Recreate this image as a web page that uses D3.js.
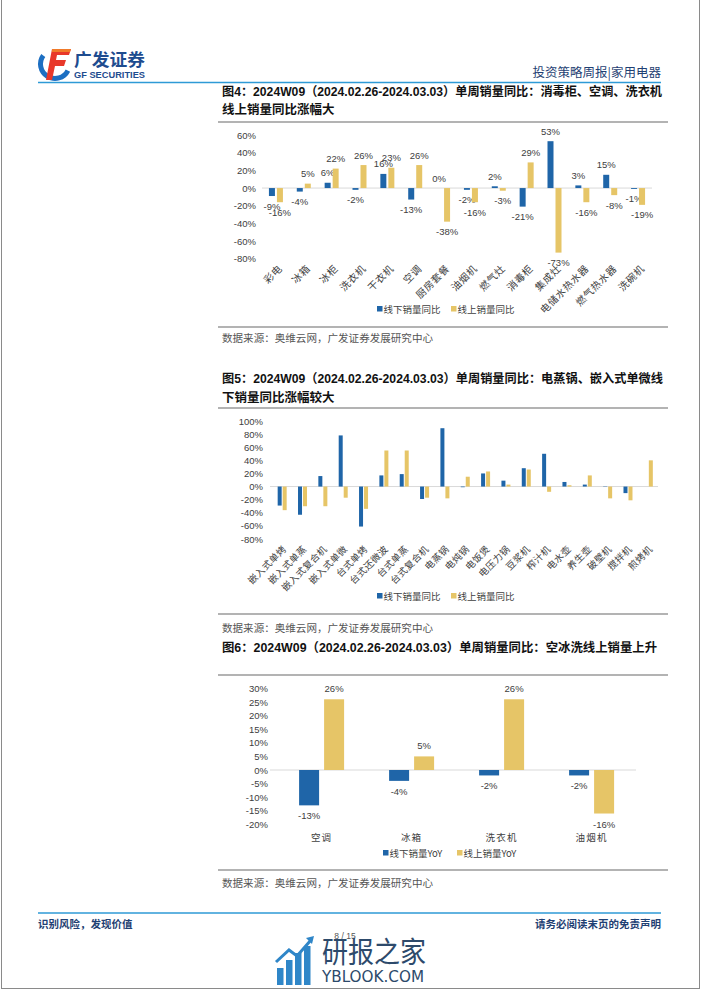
<!DOCTYPE html>
<html><head><meta charset="utf-8">
<script src="https://cdn.jsdelivr.net/npm/d3@7"></script>
<style>body{margin:0;background:#fff} svg{display:block}</style>
</head><body>
<svg id="page" width="702" height="991"></svg>
<script>
// ---------- data ----------
const cat1 = ["彩电","冰箱","冰柜","洗衣机","干衣机","空调","厨房套餐","油烟机","燃气灶","消毒柜","集成灶","电储水热水器","燃气热水器","洗碗机"];
const off1 = [-9,-4,6,-2,16,-13,0,-2,2,-21,53,3,15,-1];
const on1  = [-16,5,22,26,23,26,-38,-16,-3,29,-73,-16,-8,-19];
const ticks1 = [60,40,20,0,-20,-40,-60,-80];

const cat2 = ["嵌入式单烤","嵌入式单蒸","嵌入式复合机","嵌入式单微","台式单烤","台式还微波","台式单蒸","台式复合机","电蒸锅","电炖锅","电饭煲","电压力锅","豆浆机","榨汁机","电水壶","养生壶","破壁机","搅拌机","煎烤机"];
const off2 = [-29,-43,16,78,-61,17,19,-19,89,-1,20,9,28,50,7,3,0.5,-10,0];
const on2  = [-36,-30,-30,-17,-34,55,55,-17,-18,15,23,3,26,-8,2,17,-18,-21,40];
const ticks2 = [100,80,60,40,20,0,-20,-40,-60,-80];

const cat3 = ["空调","冰箱","洗衣机","油烟机"];
const off3 = [-13,-4,-2,-2];
const on3  = [26,5,26,-16];
const ticks3 = [30,25,20,15,10,5,0,-5,-10,-15,-20];

const legend12 = ["线下销量同比","线上销量同比"];
const legend3 = ["线下销量YoY","线上销量YoY"];

// ---------- style ----------
const BLUE = "#1f65a8", YEL = "#e6c567", NAVY = "#1f3f73", TXT = "#404040";
const SANS = "'Liberation Sans', Arial, 'Noto Sans CJK SC', sans-serif";
const CJK = "'Noto Sans CJK SC', 'Liberation Sans', sans-serif";
const svg = d3.select("#page");

// page frame
svg.append("rect").attr("x",1.5).attr("y",-2).attr("width",698).attr("height",990.5)
  .attr("fill","none").attr("stroke","#8a8a8a").attr("stroke-width",1);

// ---------- header ----------
const logo = svg.append("g");
logo.append("path").attr("d", d3.arc()({innerRadius:12, outerRadius:17, startAngle:-0.3*Math.PI, endAngle:-1.35*Math.PI}))
  .attr("transform","translate(55,64)").attr("fill","#1d6fc2");
logo.append("path").attr("d","M52,49 L71,49 L69,55 L57,55 L56,60 L66,60 L64,66 L55,66 L52,80 L46,80 Z")
  .attr("fill","#e8382a");
logo.append("path").attr("d","M52,49 L71,49 L70,52 L52,52 Z").attr("fill","#f07a2a");
logo.append("text").attr("x",74).attr("y",58).attr("dominant-baseline","central")
  .attr("font-family",CJK).attr("font-weight","bold").attr("font-size",17).attr("fill","#1e4c8f")
  .attr("textLength",71).attr("lengthAdjust","spacingAndGlyphs").text("广发证券");
logo.append("text").attr("x",74).attr("y",74.5).attr("dominant-baseline","central")
  .attr("font-family",SANS).attr("font-weight","bold").attr("font-size",8.5).attr("fill","#1e4c8f")
  .attr("textLength",71).attr("lengthAdjust","spacingAndGlyphs").text("GF SECURITIES");

svg.append("text").attr("x",661).attr("y",71).attr("text-anchor","end").attr("dominant-baseline","central")
  .attr("font-family",CJK).attr("font-size",12.5).attr("fill",NAVY).text("投资策略周报|家用电器");
svg.append("line").attr("x1",38).attr("x2",661).attr("y1",82.5).attr("y2",82.5)
  .attr("stroke","#2e9ad6").attr("stroke-width",1.5);

// ---------- helpers ----------
function title(lines, ys, lens){
  lines.forEach((t,i)=>{
    const el = svg.append("text").attr("x",222).attr("y",ys[i]).attr("dominant-baseline","central")
      .attr("font-family",SANS).attr("font-weight","bold").attr("font-size",12.5).attr("fill","#111").text(t);
    if (lens[i]) el.attr("textLength",lens[i]).attr("lengthAdjust","spacingAndGlyphs");
  });
}
function hline(y){
  svg.append("line").attr("x1",218).attr("x2",668).attr("y1",y).attr("y2",y)
    .attr("stroke","#9a9a9a").attr("stroke-width",1.5);
}
function source(y){
  svg.append("text").attr("x",222).attr("y",y).attr("dominant-baseline","central")
    .attr("font-family",CJK).attr("font-size",10).attr("fill","#555")
    .attr("textLength",211).attr("lengthAdjust","spacingAndGlyphs")
    .text("数据来源：奥维云网，广发证券发展研究中心");
}
function legend(items, xs, y){
  items.forEach((t,i)=>{
    svg.append("rect").attr("x",xs[i]).attr("y",y-3).attr("width",5.5).attr("height",5.5)
      .attr("fill", i===0?BLUE:YEL);
    svg.append("text").attr("x",xs[i]+6.5).attr("y",y).attr("dominant-baseline","central")
      .attr("font-family",CJK).attr("font-size",9.5).attr("fill",TXT).text(t);
  });
}
function chart(o){
  const g = svg.append("g");
  const y = d3.scaleLinear().domain(o.domain).range(o.yRange);
  const x = d3.scaleBand().domain(o.cats).range(o.xRange);
  const bw = x.bandwidth();
  g.append("line").attr("x1",o.zeroX[0]).attr("x2",o.zeroX[1]).attr("y1",y(0)).attr("y2",y(0))
    .attr("stroke","#d9d9d9").attr("stroke-width",1);
  const ax = g.append("g").attr("transform",`translate(${o.axisX},0)`)
    .call(d3.axisLeft(y).tickValues(o.ticks).tickFormat(d=>d+"%").tickSize(0).tickPadding(o.pad));
  ax.select(".domain").remove();
  ax.selectAll("text").attr("font-family",SANS).attr("font-size",o.tickFs).attr("fill",TXT);
  const series = [{vals:o.off, col:BLUE, dx:o.blueDx},{vals:o.on, col:YEL, dx:o.yelDx}];
  series.forEach(s=>{
    g.selectAll(null).data(o.cats).enter().append("rect")
      .attr("x",(c)=>x(c)+bw/2+s.dx).attr("width",o.barW)
      .attr("y",(c,i)=>y(Math.max(0,s.vals[i])))
      .attr("height",(c,i)=>Math.abs(y(s.vals[i])-y(0)))
      .attr("fill",s.col);
    if (o.labels){
      g.selectAll(null).data(o.cats).enter().append("text")
        .attr("x",(c)=>x(c)+bw/2+s.dx+o.barW/2)
        .attr("y",(c,i)=> s.vals[i]>=0 ? y(s.vals[i])-o.lblOff : y(s.vals[i])+o.lblOff)
        .attr("text-anchor","middle").attr("dominant-baseline","central")
        .attr("font-family",SANS).attr("font-size",o.lblFs).attr("fill",TXT)
        .text((c,i)=>Math.round(s.vals[i])+"%");
    }
  });
  if (o.rotate){
    g.selectAll(null).data(o.cats).enter().append("text")
      .attr("transform",c=>`translate(${x(c)+bw/2+o.xlDx},${o.xlY}) rotate(-45)`)
      .attr("text-anchor","end").attr("dominant-baseline","central")
      .attr("font-family",CJK).attr("font-size",o.xlFs).attr("letter-spacing",o.xlLs)
      .attr("fill",TXT).text(c=>c);
  } else {
    g.selectAll(null).data(o.cats).enter().append("text")
      .attr("x",c=>x(c)+bw/2).attr("y",o.xlY)
      .attr("text-anchor","middle").attr("dominant-baseline","central")
      .attr("font-family",CJK).attr("font-size",o.xlFs).attr("letter-spacing",o.xlLs)
      .attr("fill",TXT).text(c=>c);
  }
}

// ---------- figure 4 ----------
title(["图4：2024W09（2024.02.26-2024.03.03）单周销量同比：消毒柜、空调、洗衣机","线上销量同比涨幅大"],[92,110],[440,null]);
hline(122);
chart({cats:cat1, off:off1, on:on1, domain:[-80,60], yRange:[258.8,135], xRange:[262,652],
  zeroX:[262,652], ticks:ticks1, axisX:262, pad:6, tickFs:9.5, barW:6, blueDx:-7, yelDx:1,
  labels:true, lblOff:10, lblFs:9.5, rotate:true, xlDx:4, xlY:266, xlFs:10, xlLs:0.6});
legend(legend12,[377,451],309);
hline(327);
source(337);

// ---------- figure 5 ----------
title(["图5：2024W09（2024.02.26-2024.03.03）单周销量同比：电蒸锅、嵌入式单微线","下销量同比涨幅较大"],[379,398],[441,null]);
hline(408);
chart({cats:cat2, off:off2, on:on2, domain:[-80,100], yRange:[539,421], xRange:[272,658.5],
  zeroX:[270,658], ticks:ticks2, axisX:272, pad:9, tickFs:9.5, barW:4, blueDx:-4.5, yelDx:0.5,
  labels:false, rotate:true, xlDx:2, xlY:547, xlFs:9.5, xlLs:0.4});
legend(legend12,[377,451],596);
hline(614);
source(627);

// ---------- figure 6 ----------
title(["图6：2024W09（2024.02.26-2024.03.03）单周销量同比：空冰洗线上销量上升"],[648],[435]);
hline(675);
chart({cats:cat3, off:off3, on:on3, domain:[-20,30], yRange:[824.4,688.4], xRange:[276.6,636.6],
  zeroX:[270,636], ticks:ticks3, axisX:277, pad:9, tickFs:9.5, barW:20, blueDx:-22.5, yelDx:2.5,
  labels:true, lblOff:10.5, lblFs:9.5, rotate:false, xlY:837, xlFs:9.5, xlLs:1.2});
legend(legend3,[383,457],853);
hline(870);
source(882);

// ---------- footer ----------
svg.append("line").attr("x1",38).attr("x2",661).attr("y1",913).attr("y2",913)
  .attr("stroke","#2e9ad6").attr("stroke-width",1.5);
svg.append("text").attr("x",38).attr("y",923).attr("dominant-baseline","central")
  .attr("font-family",CJK).attr("font-size",10.5).attr("font-weight","bold").attr("fill",NAVY).text("识别风险，发现价值");
svg.append("text").attr("x",661).attr("y",923).attr("text-anchor","end").attr("dominant-baseline","central")
  .attr("font-family",CJK).attr("font-size",10.5).attr("font-weight","bold").attr("fill",NAVY).text("请务必阅读末页的免责声明");
svg.append("text").attr("x",345).attr("y",936).attr("text-anchor","middle").attr("dominant-baseline","central")
  .attr("font-family",SANS).attr("font-size",8.5).attr("fill","#555").text("8 / 15");

// watermark
const wm = svg.append("g");
[[277,968,17],[286,960,25],[295,953,32],[304,946,39]].forEach(b=>{
  wm.append("rect").attr("x",b[0]).attr("y",b[1]).attr("width",6.5).attr("height",985-b[1]).attr("fill","#2f86c8");
});
wm.append("polyline").attr("points","276,962 289,950 297,956 311,940").attr("fill","none")
  .attr("stroke","#2f86c8").attr("stroke-width",3);
wm.append("path").attr("d","M306,938 L314,936 L312,944 Z").attr("fill","#2f86c8");
wm.append("text").attr("x",322).attr("y",950).attr("dominant-baseline","central")
  .attr("font-family",CJK).attr("font-size",29).attr("fill","#2d4a6b")
  .attr("textLength",104).attr("lengthAdjust","spacingAndGlyphs").text("研报之家");
wm.append("text").attr("x",322).attr("y",976).attr("dominant-baseline","central")
  .attr("font-family","'DejaVu Sans', sans-serif").attr("font-size",16).attr("fill","#2d4a6b")
  .attr("textLength",102).attr("lengthAdjust","spacingAndGlyphs").text("YBLOOK.COM");
</script>
</body></html>
